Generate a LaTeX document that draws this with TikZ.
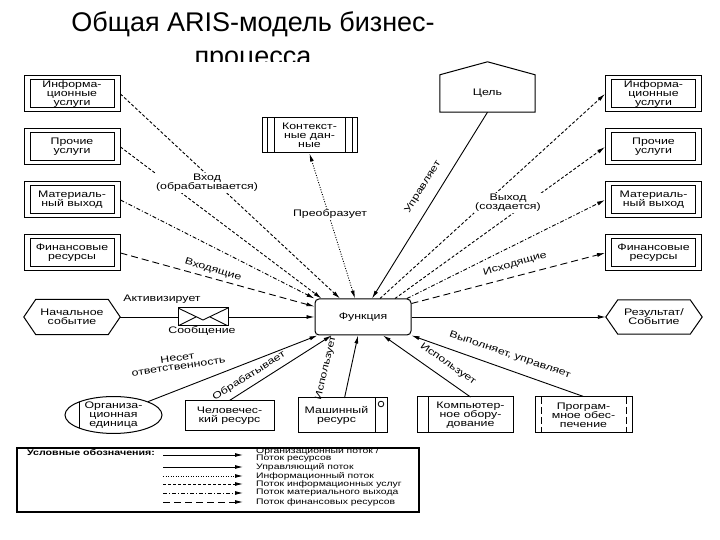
\documentclass[tikz,border=0pt]{standalone}
\usepackage{fontspec}
\setmainfont{Liberation Sans}
\newfontfamily\diagfont[FakeStretch=1.3]{Liberation Sans}
\usetikzlibrary{positioning,arrows.meta,shapes.geometric}

\begin{document}
\begin{tikzpicture}[x=1pt,y=1pt,>={Latex[length=8pt,width=4pt]},
  lbl/.style={font={\diagfont\fontsize{9.5}{8.8}\selectfont\lineskiplimit=-5pt},align=center,inner sep=1pt},
  box/.style={lbl,draw,line width=1pt,fill=white,inner sep=0pt,minimum width=96pt,minimum height=36pt},
  svc/.style={box,path picture={\draw[line width=1pt] ([shift={(6pt,4pt)}]path picture bounding box.south west) rectangle ([shift={(-6pt,-4pt)}]path picture bounding box.north east);}},
  flow/.style={draw,line width=0.9pt,->},
  infsvc/.style={flow,dash pattern=on 3pt off 2pt},
  matflow/.style={flow,dash pattern=on 4pt off 2pt on 1pt off 2pt},
  finflow/.style={flow,dash pattern=on 7pt off 4pt},
  infoflow/.style={flow,dash pattern=on 1pt off 1.5pt},
  keytext/.style={font={\diagfont\fontsize{8}{6.8}\selectfont\lineskiplimit=-5pt},align=left,anchor=west,inner sep=0pt}]
  \path[use as bounding box,fill=white] (0,0) rectangle (720,540);

  \begin{scope}
    \clip (0,478) rectangle (720,540);
    \node[anchor=base,font={\fontsize{27}{32}\selectfont}] (title_a) at (253,508) {Общая ARIS-модель бизнес-};
    \node[anchor=base,font={\fontsize{27}{32}\selectfont}] (title_b) at (253,474) {процесса};
  \end{scope}

  \node[svc] (info_l) at (72,446) {Информа-\\ционные\\услуги};
  \node[svc,below=16pt of info_l] (other_l) {Прочие\\услуги};
  \node[svc,below=16pt of other_l] (mat_l) {Материаль-\\ный выход};
  \node[svc,below=16pt of mat_l] (fin_l) {Финансовые\\ресурсы};

  \node[svc] (info_r) at (653.5,446) {Информа-\\ционные\\услуги};
  \node[svc,below=16pt of info_r] (other_r) {Прочие\\услуги};
  \node[svc,below=16pt of other_r] (mat_r) {Материаль-\\ный выход};
  \node[svc,below=16pt of mat_r] (fin_r) {Финансовые\\ресурсы};

  \node[box,minimum width=95pt,minimum height=35pt,path picture={\foreach \d in {5,12} {\draw[line width=1pt] ([xshift=\d pt]path picture bounding box.south west) -- ([xshift=\d pt]path picture bounding box.north west); \draw[line width=1pt] ([xshift=-\d pt]path picture bounding box.south east) -- ([xshift=-\d pt]path picture bounding box.north east);}}] (context) at (309.5,404.5) {Контекст-\\ные дан-\\ные};

  \node[lbl,minimum width=95pt,minimum height=37pt] (goal) at (487.5,446.5) {Цель};
  \draw[line width=1pt] (goal.south west) -- (goal.north west) -- ([yshift=13pt]goal.north) -- (goal.north east) -- (goal.south east) -- cycle;

  \node[box,rounded corners=4pt] (func) at (363,223) {Функция};

  \node[lbl,minimum width=72pt,minimum height=35pt] (start) at (72,223) {Начальное\\событие};
  \draw[line width=1pt] ([xshift=-12pt]start.west) -- (start.north west) -- (start.north east) -- ([xshift=12pt]start.east) -- (start.south east) -- (start.south west) -- cycle;
  \coordinate (start_tip) at ([xshift=12pt]start.east);

  \node[lbl,minimum width=72pt,minimum height=34pt] (result) at (654,223) {Результат/\\Событие};
  \draw[line width=1pt] ([xshift=-12pt]result.west) -- (result.north west) -- (result.north east) -- ([xshift=12pt]result.east) -- (result.south east) -- (result.south west) -- cycle;
  \coordinate (result_tip) at ([xshift=-12pt]result.west);

  \node[draw,line width=1pt,fill=white,minimum width=50pt,minimum height=18pt,inner sep=0pt,path picture={\draw[line width=0.9pt] (path picture bounding box.north west) -- ([yshift=-3pt]path picture bounding box.center) -- (path picture bounding box.north east); \draw[line width=0.9pt] (path picture bounding box.south west) -- ([xshift=-7pt]path picture bounding box.center); \draw[line width=0.9pt] (path picture bounding box.south east) -- ([xshift=7pt]path picture bounding box.center);}] (msg) at (203,223) {};

  \node[lbl,ellipse,draw,line width=1pt,fill=white,inner sep=0pt,minimum width=97pt,minimum height=30pt,path picture={\draw[line width=1pt] ([xshift=14pt]path picture bounding box.north west) -- ([xshift=14pt]path picture bounding box.south west);}] (org) at (113.5,125) {Организа-\\ционная\\единица};
  \node[box,minimum width=89pt,minimum height=30pt] (human) at (229.5,124) {Человечес-\\кий ресурс};
  \node[box,minimum width=77pt,minimum height=35pt,outer sep=0pt] (machine) at (336.5,124.5) {Машинный\\ресурс};
  \node[box,minimum width=12pt,minimum height=35pt,outer sep=0pt,right=0pt of machine,path picture={\draw[line width=0.8pt] ([yshift=-6pt]path picture bounding box.north) circle (2.8pt);}] (machine_tag) {};
  \node[box,minimum width=85pt,minimum height=36pt,outer sep=0pt,path picture={\foreach \a/\sx/\sy in {south west/4/4,north west/4/-4,south east/-8/4,north east/-8/-4} {\fill ([shift={(\sx pt,\sy pt)}]path picture bounding box.\a) circle (1.6pt);}}] (computer) at (470.5,125) {Компьютер-\\ное обору-\\дование};
  \node[box,minimum width=11pt,minimum height=36pt,outer sep=0pt,left=0pt of computer] (computer_bar) {};
  \node[box,minimum width=97pt,minimum height=36pt,path picture={\draw[line width=0.9pt,dash pattern=on 7pt off 3pt] ([xshift=6pt]path picture bounding box.north west) -- ([xshift=6pt]path picture bounding box.south west); \draw[line width=0.9pt,dash pattern=on 7pt off 3pt] ([xshift=-6pt]path picture bounding box.north east) -- ([xshift=-6pt]path picture bounding box.south east);}] (software) at (583.5,125) {Програм-\\мное обес-\\печение};

  \draw[infsvc] (info_l.east) -- ([xshift=-23pt]func.north);
  \draw[infsvc] (other_l.east) -- ([xshift=7pt]func.north west);
  \draw[matflow] (mat_l.east) -- (func.north west);
  \draw[finflow] (fin_l.east) -- ([yshift=-8pt]func.north west);
  \draw[infoflow,<->] (context.south) -- ([xshift=-8pt]func.north);
  \draw[flow] (goal.south) -- ([xshift=9pt]func.north);
  \draw[infsvc] ([xshift=17pt]func.north) -- (info_r.west);
  \draw[infsvc] ([xshift=32pt]func.north) -- (other_r.west);
  \draw[matflow] ([xshift=44pt]func.north) -- (mat_r.west);
  \draw[finflow] ([yshift=-5pt]func.north east) -- (fin_r.west);

  \draw[line width=0.9pt] (start_tip) -- (msg);
  \draw[flow] (msg) -- (func);
  \draw[flow] (func) -- (result_tip);

  \draw[flow] (org.north east) -- ([xshift=3pt]func.south west);
  \draw[flow] (human.north) -- ([xshift=17pt]func.south west);
  \draw[flow] ([xshift=8pt]machine.north) -- ([xshift=-5pt]func.south);
  \draw[flow] (computer.north) -- ([xshift=20pt]func.south);
  \draw[flow] (software.north) -- (func.south east);

  \node[lbl,fill=white] (in_lbl) at (207,357) {Вход\\(обрабатывается)};
  \node[lbl,rotate=-17] (in_fin_lbl) at (213,270) {Входящие};
  \node[lbl,fill=white] (context_lbl) at (330,326) {Преобразует};
  \node[lbl,rotate=58] (goal_lbl) at (423,353) {Управляет};
  \node[lbl,fill=white] (out_lbl) at (508,337) {Выход\\(создается)};
  \node[lbl,rotate=16] (out_fin_lbl) at (515,276) {Исходящие};
  \node[lbl] (act_lbl) at (162,241) {Активизирует};
  \node[lbl] (msg_lbl) at (202,209) {Сообщение};
  \node[lbl,rotate=8] (org_lbl) at (178,178) {Несет\\ответственность};
  \node[lbl,rotate=32] (human_lbl) at (249,164) {Обрабатывает};
  \node[lbl,rotate=77] (machine_lbl) at (326,172) {Использует};
  \node[lbl,rotate=-35] (computer_lbl) at (448,176) {Использует};
  \node[lbl,rotate=-19] (software_lbl) at (510,185) {Выполняет, управляет};

  \node[draw,line width=1.2pt,minimum width=402pt,minimum height=64pt] (legend) at (218,60) {};
  \node[keytext,font={\diagfont\bfseries\fontsize{8.2}{7}\selectfont}] (key_title) at (27,87) {Условные обозначения:};
  \node[keytext] (key_org) at (256,85) {Организационный поток /\\Поток ресурсов};
  \draw[flow] ([xshift=-93pt]key_org.west) -- ([xshift=-13pt]key_org.west);
  \foreach \st/\y/\txt [count=\i] in {flow/73/Управляющий поток,infoflow/64/Информационный поток,infsvc/56/Поток информационных услуг,matflow/47/Поток материального выхода,finflow/38/Поток финансовых ресурсов} {
    \node[keytext] (key_\i) at (256,\y) {\txt};
    \draw[\st] ([xshift=-93pt]key_\i.west) -- ([xshift=-13pt]key_\i.west);
  }
\end{tikzpicture}
\end{document}
